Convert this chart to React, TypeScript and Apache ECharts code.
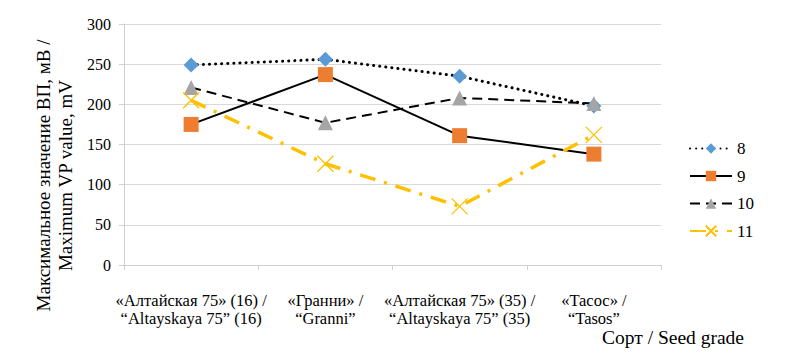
import React, { useEffect, useRef } from "react";
import * as echarts from "echarts";

const categories = [
  "«Алтайская 75» (16) /\n“Altayskaya 75” (16)",
  "«Гранни» /\n“Granni”",
  "«Алтайская 75» (35) /\n“Altayskaya 75” (35)",
  "«Тасос» /\n“Tasos”",
];
const s8 = [249, 256, 235, 198];
const s9 = [175, 237, 161, 138];
const s10 = [221, 177, 208, 201];
const s11 = [205, 126, 73, 162];
const yTicks = { min: 0, max: 300, interval: 50 };

const FONT = "Liberation Serif";
const xPath = "path://M0,0L20,20M20,0L0,20";

export default function App() {
  const ref = useRef<HTMLDivElement>(null);
  useEffect(() => {
    const chart = echarts.init(ref.current!, undefined, { renderer: "svg" });
    chart.setOption({
      animation: false,
      textStyle: { fontFamily: FONT, color: "#000" },
      grid: { left: 124, right: 128, top: 24, bottom: 98, containLabel: false, outerBoundsMode: "none" },
      title: {
        text: "Сорт / Seed grade",
        left: 602,
        top: 327,
        padding: 0,
        textStyle: { fontFamily: FONT, fontSize: 19.5, fontWeight: "normal", color: "#000" },
      },
      legend: {
        orient: "vertical",
        left: 684,
        top: 135,
        itemWidth: 42,
        itemHeight: 13,
        itemGap: 10.5,
        textStyle: { fontFamily: FONT, fontSize: 17, color: "#000" },
        data: ["8", "9", "10", "11"],
      },
      xAxis: {
        type: "category",
        data: categories,
        boundaryGap: true,
        axisLine: { lineStyle: { color: "#d0d0d0", width: 1 } },
        axisTick: { show: true, length: 5, lineStyle: { color: "#d0d0d0" } },
        axisLabel: {
          fontFamily: FONT,
          fontSize: 16.5,
          color: "#000",
          margin: 26,
          lineHeight: 18,
          interval: 0,
        },
      },
      yAxis: {
        type: "value",
        min: yTicks.min,
        max: yTicks.max,
        interval: yTicks.interval,
        name: "Максимальное значение ВП, мВ /\nMaximum VP value, mV",
        nameLocation: "middle",
        nameGap: 35,
        nameRotate: 90,
        nameTextStyle: {
          fontFamily: FONT,
          fontSize: 19,
          lineHeight: 22,
          color: "#000",
          padding: [0, 62, 0, 0],
        },
        axisLine: { show: true, lineStyle: { color: "#d0d0d0", width: 1 } },
        axisTick: { show: true, length: 5, lineStyle: { color: "#d0d0d0" } },
        axisLabel: { fontFamily: FONT, fontSize: 16, color: "#000", margin: 13 },
        splitLine: { lineStyle: { color: "#d9d9d9", width: 1 } },
      },
      series: [
        {
          name: "8",
          type: "line",
          data: s8,
          symbol: "diamond",
          symbolSize: 15,
          itemStyle: { color: "#5b9bd5" },
          lineStyle: { color: "#000", width: 3, type: [0.1, 6], cap: "round" },
        },
        {
          name: "9",
          type: "line",
          data: s9,
          symbol: "rect",
          symbolSize: 15,
          itemStyle: { color: "#ed7d31" },
          lineStyle: { color: "#000", width: 2 },
        },
        {
          name: "10",
          type: "line",
          data: s10,
          symbol: "triangle",
          symbolSize: 15,
          itemStyle: { color: "#a5a5a5" },
          lineStyle: { color: "#000", width: 2, type: [10, 6] },
        },
        {
          name: "11",
          type: "line",
          data: s11,
          symbol: xPath,
          symbolSize: 16,
          itemStyle: { color: "transparent", borderColor: "#ffc000", borderWidth: 1.3 },
          lineStyle: { color: "#ffc000", width: 3.5, type: [16, 9, 3, 9] },
        },
      ],
    });
    return () => chart.dispose();
  }, []);
  return <div ref={ref} style={{ width: 789, height: 363, margin: -8 }} />;
}
